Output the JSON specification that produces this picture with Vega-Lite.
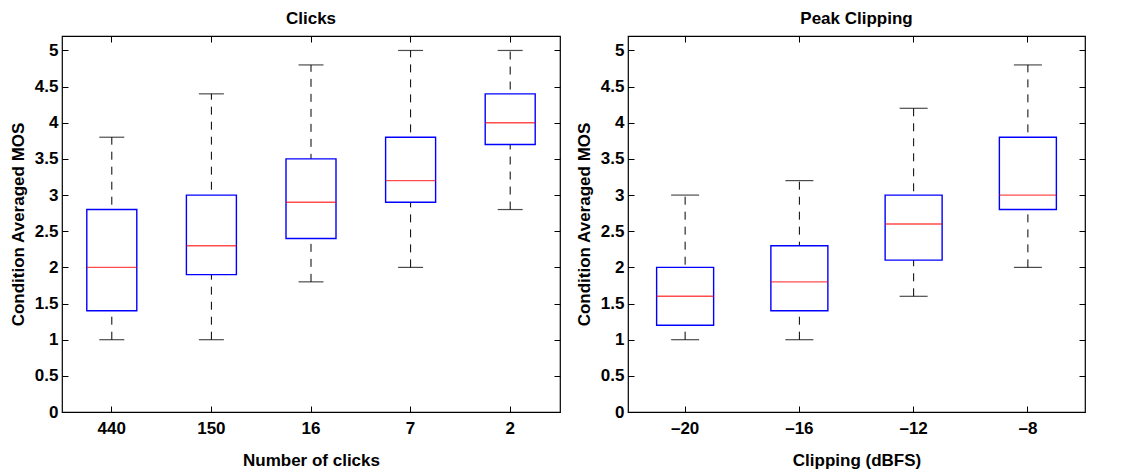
{
  "$schema": "https://vega.github.io/schema/vega-lite/v6.json",
  "padding": {"left": 8, "top": 8, "right": 0, "bottom": 0},
  "background": "white",
  "datasets": {
    "clicks": [
      {"level": "440", "min": 1.0, "q1": 1.4, "median": 2.0, "q3": 2.8, "max": 3.8},
      {"level": "150", "min": 1.0, "q1": 1.9, "median": 2.3, "q3": 3.0, "max": 4.4},
      {"level": "16", "min": 1.8, "q1": 2.4, "median": 2.9, "q3": 3.5, "max": 4.8},
      {"level": "7", "min": 2.0, "q1": 2.9, "median": 3.2, "q3": 3.8, "max": 5.0},
      {"level": "2", "min": 2.8, "q1": 3.7, "median": 4.0, "q3": 4.4, "max": 5.0}
    ],
    "clipping": [
      {"level": "\u201320", "min": 1.0, "q1": 1.2, "median": 1.6, "q3": 2.0, "max": 3.0},
      {"level": "\u201316", "min": 1.0, "q1": 1.4, "median": 1.8, "q3": 2.3, "max": 3.2},
      {"level": "\u201312", "min": 1.6, "q1": 2.1, "median": 2.6, "q3": 3.0, "max": 4.2},
      {"level": "\u20138", "min": 2.0, "q1": 2.8, "median": 3.0, "q3": 3.8, "max": 4.8}
    ]
  },
  "spacing": 12,
  "hconcat": [
    {
      "width": 498,
      "height": 376,
      "title": {"text": "Clicks"},
      "data": {"name": "clicks"},
      "layer": [
        {
          "mark": {"type": "rule", "color": "black", "strokeWidth": 1, "strokeDash": [8, 7]},
          "encoding": {
            "x": {"field": "level", "type": "ordinal", "sort": null, "scale": {"paddingInner": 0, "paddingOuter": 0},
                  "axis": {"orient": "bottom", "title": "Number of clicks", "labelAngle": 0, "tickSize": -6, "labelPadding": 14, "titlePadding": 16}},
            "y": {"field": "min", "type": "quantitative", "scale": {"domain": [0, 5.2], "nice": false, "zero": false},
                  "axis": {"orient": "left", "title": "Condition Averaged MOS", "values": [0, 0.5, 1, 1.5, 2, 2.5, 3, 3.5, 4, 4.5, 5], "labelExpr": "'' + datum.value", "tickSize": -6, "labelPadding": 10, "titlePadding": 7}},
            "y2": {"field": "max"}
          }
        },
        {
          "mark": {"type": "tick", "color": "black", "size": 25, "thickness": 1.2},
          "encoding": {
            "x": {"field": "level", "type": "ordinal", "sort": null, "axis": null},
            "y": {"field": "min", "type": "quantitative", "axis": null}
          }
        },
        {
          "mark": {"type": "tick", "color": "black", "size": 25, "thickness": 1.2},
          "encoding": {
            "x": {"field": "level", "type": "ordinal", "sort": null, "axis": null},
            "y": {"field": "max", "type": "quantitative", "axis": null}
          }
        },
        {
          "mark": {"type": "bar", "fill": "white", "stroke": "#0000ff", "strokeWidth": 1.4, "width": 50},
          "encoding": {
            "x": {"field": "level", "type": "ordinal", "sort": null, "axis": null},
            "y": {"field": "q1", "type": "quantitative", "axis": null},
            "y2": {"field": "q3"}
          }
        },
        {
          "mark": {"type": "tick", "color": "#ff0000", "size": 50, "thickness": 1.4},
          "encoding": {
            "x": {"field": "level", "type": "ordinal", "sort": null, "axis": null},
            "y": {"field": "median", "type": "quantitative", "axis": null}
          }
        },
        {
          "mark": {"type": "point", "opacity": 0},
          "encoding": {
            "x": {"field": "level", "type": "ordinal", "sort": null, "axis": {"orient": "top", "labels": false, "title": null, "tickSize": -6}},
            "y": {"field": "median", "type": "quantitative", "axis": {"orient": "right", "labels": false, "title": null, "tickSize": -6, "values": [0, 0.5, 1, 1.5, 2, 2.5, 3, 3.5, 4, 4.5, 5]}}
          }
        }
      ],
      "resolve": {"axis": {"x": "independent", "y": "independent"}}
    },
    {
      "width": 457,
      "height": 376,
      "title": {"text": "Peak Clipping"},
      "data": {"name": "clipping"},
      "layer": [
        {
          "mark": {"type": "rule", "color": "black", "strokeWidth": 1, "strokeDash": [8, 7]},
          "encoding": {
            "x": {"field": "level", "type": "ordinal", "sort": null, "scale": {"paddingInner": 0, "paddingOuter": 0},
                  "axis": {"orient": "bottom", "title": "Clipping (dBFS)", "labelAngle": 0, "tickSize": -6, "labelPadding": 14, "titlePadding": 16}},
            "y": {"field": "min", "type": "quantitative", "scale": {"domain": [0, 5.2], "nice": false, "zero": false},
                  "axis": {"orient": "left", "title": "Condition Averaged MOS", "values": [0, 0.5, 1, 1.5, 2, 2.5, 3, 3.5, 4, 4.5, 5], "labelExpr": "'' + datum.value", "tickSize": -6, "labelPadding": 10, "titlePadding": 7}},
            "y2": {"field": "max"}
          }
        },
        {
          "mark": {"type": "tick", "color": "black", "size": 28, "thickness": 1.2},
          "encoding": {
            "x": {"field": "level", "type": "ordinal", "sort": null, "axis": null},
            "y": {"field": "min", "type": "quantitative", "axis": null}
          }
        },
        {
          "mark": {"type": "tick", "color": "black", "size": 28, "thickness": 1.2},
          "encoding": {
            "x": {"field": "level", "type": "ordinal", "sort": null, "axis": null},
            "y": {"field": "max", "type": "quantitative", "axis": null}
          }
        },
        {
          "mark": {"type": "bar", "fill": "white", "stroke": "#0000ff", "strokeWidth": 1.4, "width": 57},
          "encoding": {
            "x": {"field": "level", "type": "ordinal", "sort": null, "axis": null},
            "y": {"field": "q1", "type": "quantitative", "axis": null},
            "y2": {"field": "q3"}
          }
        },
        {
          "mark": {"type": "tick", "color": "#ff0000", "size": 57, "thickness": 1.4},
          "encoding": {
            "x": {"field": "level", "type": "ordinal", "sort": null, "axis": null},
            "y": {"field": "median", "type": "quantitative", "axis": null}
          }
        },
        {
          "mark": {"type": "point", "opacity": 0},
          "encoding": {
            "x": {"field": "level", "type": "ordinal", "sort": null, "axis": {"orient": "top", "labels": false, "title": null, "tickSize": -6}},
            "y": {"field": "median", "type": "quantitative", "axis": {"orient": "right", "labels": false, "title": null, "tickSize": -6, "values": [0, 0.5, 1, 1.5, 2, 2.5, 3, 3.5, 4, 4.5, 5]}}
          }
        }
      ],
      "resolve": {"axis": {"x": "independent", "y": "independent"}}
    }
  ],
  "config": {
    "view": {"stroke": "black", "strokeWidth": 1.2},
    "font": "Liberation Sans",
    "title": {"font": "Liberation Sans", "fontSize": 17, "fontWeight": "bold", "color": "black", "offset": 8, "anchor": "middle"},
    "axis": {
      "domain": false,
      "grid": false,
      "ticks": true,
      "tickColor": "black",
      "tickWidth": 1,
      "labelFont": "Liberation Sans",
      "labelFontSize": 17,
      "labelFontWeight": "bold",
      "labelColor": "black",
      "titleFont": "Liberation Sans",
      "titleFontSize": 17,
      "titleFontWeight": "bold",
      "titleColor": "black"
    }
  }
}
